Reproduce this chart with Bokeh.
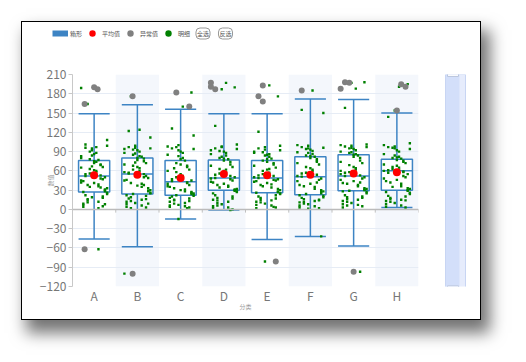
from bokeh.plotting import figure
from bokeh.layouts import column, row
from bokeh.models import (Range1d, FixedTicker, Legend, LegendItem, Label,
                          Span, ColumnDataSource, Spacer)
from bokeh.embed import file_html
from bokeh.resources import INLINE

# ---------------- data ----------------
categories = ["A", "B", "C", "D", "E", "F", "G", "H"]
whisker_low = [-46, -58, -15, -1, -47, -42, -57, 3]
q1 = [27, 24, 22, 30, 26, 23, 29, 30]
median = [52, 55, 43, 49, 49, 51, 52, 60]
q3 = [76, 80, 76, 77, 76, 82, 85, 78]
whisker_high = [149, 163, 156, 149, 149, 172, 171, 150]
means = [53, 54, 49, 55, 53, 54, 56, 58]

outlier_cat = ["A", "A", "A", "A", "B", "B", "C", "C", "D", "D", "D",
               "E", "E", "E", "E", "F", "G", "G", "G", "G", "H", "H", "H"]
outlier_val = [164, 190, 187, -62, 176, -100, 182, 160, 197, 191, 187,
               193, 176, 168, -81, 185, 188, 198, 197, -97, 195, 191, 154]
outlier_jit = [-0.22, 0.0, 0.08, -0.22, -0.11, -0.11, -0.1, 0.2, -0.3, -0.3, -0.2,
               -0.1, -0.2, -0.1, 0.2, -0.2, -0.3, -0.2, -0.1, 0.0, 0.1, 0.2, 0.0]

detail_A = [45, 12, 78, 33, 96, 5, 61, 27, 88, 50, 19, 70, 38, 83, 2, 56, 24, 101, 66, 41,
            9, 74, 30, 92, 53, 16, 80, 36, 63, 108, 22, 47, 86, 7, 58, 28, 95, 69, 14, 42,
            77, 35, 99, 52, 20, 72, 4, 60, 31, 84, 48, 11, 65, 39, 90, 26, 55, 18, 75, 44,
            97, 8, 67, 34, 164, 189, -62]
detail_B = [58, 15, 85, 30, 97, 3, 66, 22, 90, 49, 10, 79, 41, 94, 6, 62, 26, 122, 72, 37,
            12, 83, 28, 96, 55, 19, 88, 35, 68, 112, 17, 52, 92, 4, 60, 33, 99, 75, 13, 45,
            82, 24, 95, 57, 21, 77, 8, 64, 29, 87, 50, 2, 70, 40, 93, 25, 56, 16, 80, 46,
            124, 9, 73, 38, 176, -100]
detail_C = [40, 10, 72, 25, 95, 3, 55, 18, 88, 45, 7, 68, 33, 98, 5, 50, 21, 126, 62, 30,
            12, 80, 24, 92, 42, 15, 85, 28, 58, 115, 20, 38, 90, 4, 48, 27, 100, 66, 14, 36,
            76, 22, 94, 44, 17, 70, 6, 52, 26, 83, 41, 9, 60, 31, 97, 23, 47, 13, 78, 35,
            160, 182, -15, 2, 64]
detail_D = [48, 12, 80, 32, 95, 0, 60, 25, 88, 50, 8, 74, 38, 92, 3, 56, 28, 130, 66, 40,
            15, 84, 30, 97, 52, 18, 86, 35, 63, 101, 22, 45, 90, 2, 58, 31, 98, 70, 10, 43,
            78, 34, 94, 49, 20, 76, 5, 62, 29, 82, 47, 14, 68, 37, 91, 27, 54, 17, 79, 42,
            197, 190, 187, -1, 6]
detail_E = [50, 14, 76, 30, 95, 3, 62, 26, 86, 47, 9, 72, 38, 90, 6, 55, 24, 121, 65, 41,
            12, 82, 28, 93, 52, 18, 88, 34, 60, 99, 20, 45, 85, 2, 57, 32, 97, 70, 11, 43,
            79, 36, 92, 49, 22, 74, 7, 63, 27, 84, 46, 15, 68, 39, 89, 25, 53, 17, 78, 44,
            193, 176, -81, 4]
detail_F = [52, 13, 84, 28, 97, 2, 64, 22, 91, 48, 8, 78, 36, 100, 5, 57, 19, 155, 70, 40,
            11, 86, 25, 95, 54, 16, 89, 32, 66, 150, 18, 46, 93, 3, 60, 30, 99, 74, 9, 44,
            82, 24, 96, 51, 15, 80, 6, 62, 27, 88, 42, 12, 72, 35, 94, 21, 56, 14, 83, 38,
            185, -42, 1, 76]
detail_G = [55, 15, 88, 32, 98, 5, 66, 28, 92, 50, 10, 80, 40, 100, 7, 58, 25, 158, 72, 44,
            13, 86, 30, 96, 53, 19, 90, 36, 69, 101, 22, 48, 94, 3, 62, 33, 99, 76, 12, 46,
            84, 29, 97, 52, 20, 82, 8, 64, 31, 89, 42, 16, 74, 38, 95, 27, 57, 18, 85, 41,
            188, 198, 197, -97, 6, 60]
detail_H = [60, 15, 80, 32, 97, 3, 68, 27, 90, 55, 10, 76, 42, 100, 6, 63, 24, 144, 72, 46,
            13, 82, 30, 95, 58, 18, 86, 36, 66, 103, 21, 50, 92, 4, 62, 33, 98, 74, 12, 48,
            79, 35, 94, 57, 20, 77, 8, 65, 29, 84, 52, 16, 70, 40, 96, 26, 61, 14, 81, 44,
            191, 195, 154, 59]
detail_jitter = [-0.3, 0.1, -0.1, 0.3, -0.2, 0.2, 0.0, -0.25, 0.05, 0.25, -0.05, 0.15, -0.15]

y_ticks = [-120, -90, -60, -30, 0, 30, 60, 90, 120, 150, 180, 210]

legend_labels = ["箱形", "平均值", "异常值", "明细"]
buttons = ["全选", "反选"]
x_name = "分类"
y_name = "数值"

# ---------------- styling ----------------
FONT = "Noto Sans CJK SC"
BLUE = "#3d84c4"
BOX_W = 0.72
W_IN, H_IN = 458, 297          # inner size of the framed panel
HDR_H = 44                      # legend strip height
SL_W = 39                       # slider strip width
OFFSET = 21                     # panel offset from the page corner
TOP_B, BOT_B = 8, 33            # main chart top / bottom borders

n = len(categories)
centers = [i + 0.5 for i in range(n)]
pos = {c: centers[i] for i, c in enumerate(categories)}

# ---------------- legend strip ----------------
hdr = figure(width=W_IN, height=HDR_H, x_range=Range1d(0, W_IN), y_range=Range1d(0, HDR_H),
             x_axis_type=None, y_axis_type=None, output_backend="svg", toolbar_location=None,
             min_border=0)
hdr.grid.visible = False
hdr.outline_line_color = None
hdr.background_fill_color = "white"
hdr.border_fill_color = "white"

# legend proxies (one point each, placed outside the visible range)
leg_box = hdr.line([-50, -40], [-50, -50], line_color=BLUE, line_width=6)
leg_mean = hdr.scatter([-50], [-50], marker="circle", fill_color="#ff0000", line_color=None)
leg_out = hdr.scatter([-50], [-50], marker="circle", fill_color="#808080", line_color=None)
leg_det = hdr.scatter([-50], [-50], marker="circle", fill_color="#008000", line_color=None)
legend = Legend(items=[LegendItem(label=legend_labels[0], renderers=[leg_box]),
                       LegendItem(label=legend_labels[1], renderers=[leg_mean]),
                       LegendItem(label=legend_labels[2], renderers=[leg_out]),
                       LegendItem(label=legend_labels[3], renderers=[leg_det])],
                orientation="horizontal", location=(30, 25),
                glyph_width=16, glyph_height=16, label_height=16, label_width=0,
                label_standoff=2, spacing=2, padding=0, margin=0,
                label_text_font_size="6px", label_text_color="#555555",
                label_text_font=FONT, border_line_color=None,
                background_fill_alpha=0)
hdr.add_layout(legend, "center")
for txt, bx in zip(buttons, [180.5, 203]):
    hdr.add_layout(Label(x=bx, y=33, x_units="screen", y_units="screen", text=txt,
                         text_align="center", text_baseline="middle",
                         text_font_size="6px", text_color="#555555", text_font=FONT,
                         border_line_color="#999999", border_line_width=1,
                         background_fill_color="white", padding=1, border_radius=4))

# ---------------- main chart ----------------
p = figure(width=W_IN - SL_W, height=H_IN - HDR_H,
           x_range=Range1d(0, n), y_range=Range1d(y_ticks[0], y_ticks[-1]),
           output_backend="svg", toolbar_location=None,
           min_border_left=50, min_border_right=23,
           min_border_top=TOP_B, min_border_bottom=BOT_B)
p.outline_line_color = None
p.background_fill_color = "white"
p.border_fill_color = "white"

band_left = [centers[i] - 0.5 for i in range(1, n, 2)]
band_right = [centers[i] + 0.5 for i in range(1, n, 2)]
p.quad(left=band_left, right=band_right, bottom=y_ticks[0], top=y_ticks[-1],
       fill_color="#dfe7f7", fill_alpha=0.35, line_color=None, level="underlay")

p.xgrid.grid_line_color = None
p.ygrid.ticker = FixedTicker(ticks=y_ticks)
p.ygrid.grid_line_color = "#e6ecf5"

p.yaxis.ticker = FixedTicker(ticks=y_ticks)
p.yaxis.axis_line_color = "#c8c8c8"
p.yaxis.major_tick_line_color = "#c8c8c8"
p.yaxis.major_tick_out = 4
p.yaxis.major_tick_in = 0
p.yaxis.minor_tick_line_color = None
p.yaxis.major_label_standoff = 2
p.yaxis.major_label_text_font_size = "12px"
p.yaxis.major_label_text_color = "#777777"
p.yaxis.major_label_text_font = FONT
p.yaxis.axis_label = y_name
p.yaxis.axis_label_text_font_size = "6px"
p.yaxis.axis_label_text_font_style = "normal"
p.yaxis.axis_label_text_color = "#999999"
p.yaxis.axis_label_text_font = FONT
p.yaxis.axis_label_standoff = -18

p.xaxis.ticker = FixedTicker(ticks=centers)
p.xaxis.major_label_overrides = {c: categories[i] for i, c in enumerate(centers)}
p.xaxis.axis_line_color = None
p.xaxis.major_tick_line_color = None
p.xaxis.minor_tick_line_color = None
p.xaxis.major_tick_out = 0
p.xaxis.major_tick_in = 0
p.xaxis.major_label_standoff = 0
p.xaxis.major_label_text_font_size = "12px"
p.xaxis.major_label_text_color = "#777777"
p.xaxis.major_label_text_font = FONT
p.xaxis.axis_label = x_name
p.xaxis.axis_label_text_font_size = "6px"
p.xaxis.axis_label_text_font_style = "normal"
p.xaxis.axis_label_text_color = "#999999"
p.xaxis.axis_label_text_font = FONT
p.xaxis.axis_label_standoff = -5

p.add_layout(Span(location=0, dimension="width", line_color="#bbbbbb", line_width=1.5))
bounds = [i for i in range(n + 1)]
p.segment(x0=bounds, y0=[0] * len(bounds), x1=bounds, y1=[-5] * len(bounds),
          line_color="#c0c0c0", line_width=1)

box_src = ColumnDataSource(dict(x=centers, q1=q1, q3=q3, med=median, lo=whisker_low,
                                hi=whisker_high,
                                l=[c - BOX_W / 2 for c in centers],
                                r=[c + BOX_W / 2 for c in centers]))
p.vbar(x="x", width=BOX_W, top="q3", bottom="q1", source=box_src,
       fill_color="white", line_color=BLUE, line_width=1.5)
for a, b in [("q3", "hi"), ("q1", "lo")]:
    p.segment(x0="x", y0=a, x1="x", y1=b, source=box_src, line_color=BLUE, line_width=1.5)
for yk in ["hi", "lo", "med"]:
    p.segment(x0="l", y0=yk, x1="r", y1=yk, source=box_src, line_color=BLUE, line_width=1.5)

dx, dy = [], []
for cat, vals in zip(categories, [detail_A, detail_B, detail_C, detail_D,
                                  detail_E, detail_F, detail_G, detail_H]):
    for i, v in enumerate(vals):
        dx.append(pos[cat] + detail_jitter[i % len(detail_jitter)])
        dy.append(v)
p.scatter(dx, dy, marker="square", size=2.4, fill_color="#008000", line_color=None)

ox = [pos[c] + j for c, j in zip(outlier_cat, outlier_jit)]
p.scatter(ox, outlier_val, marker="circle", size=6, fill_color="#808080", line_color=None)
p.scatter(centers, means, marker="circle", size=8, fill_color="#ff0000", line_color=None)

# ---------------- vertical data-zoom strip (shares the value range) ----------------
sl = figure(width=SL_W, height=H_IN - HDR_H, x_range=Range1d(0, SL_W), y_range=p.y_range,
            x_axis_type=None, y_axis_type=None, output_backend="svg", toolbar_location=None,
            min_border_left=0, min_border_right=0,
            min_border_top=TOP_B, min_border_bottom=BOT_B)
sl.grid.visible = False
sl.outline_line_color = None
sl.background_fill_color = "white"
sl.border_fill_color = "white"
lo_v, hi_v = y_ticks[0], y_ticks[-1]
sl.quad(left=[4], right=[24], bottom=[lo_v - 2], top=[hi_v],
        fill_color="#e6ecfc", line_color="#c8d5f3", line_width=1)
sl.quad(left=[4.5], right=[18], bottom=[lo_v - 1.5], top=[hi_v - 0.5],
        fill_color="#d3dffa", line_color=None)
sl.quad(left=[6, 6], right=[17, 17], bottom=[hi_v - 3, lo_v - 4], top=[hi_v + 2, lo_v + 1],
        fill_color="white", line_color="#b8c4dc", line_width=1)

framed = column(hdr, row(p, sl),
                styles={"border": "1px solid #000", "background-color": "white",
                        "box-shadow": "7px 11px 15px 2px rgba(0,0,0,0.55)"})
root = column(Spacer(height=OFFSET), row(Spacer(width=OFFSET), framed))

open("out.html", "w").write(file_html(root, INLINE))
